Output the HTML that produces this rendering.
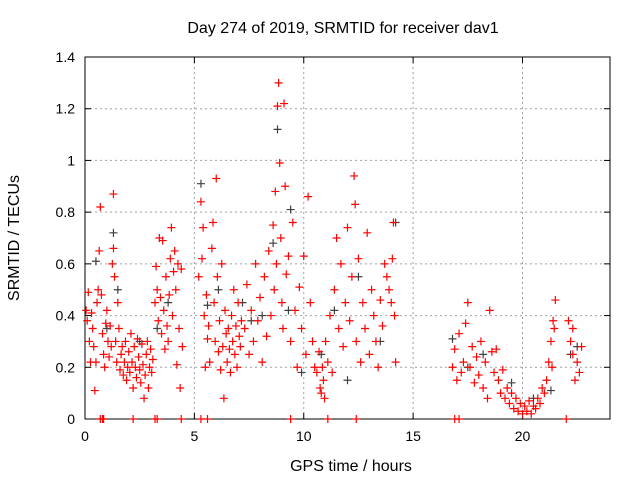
<!DOCTYPE html>
<html><head><meta charset="utf-8"><style>
body{margin:0;background:#fff;}
svg{display:block;font-family:"Liberation Sans",sans-serif;}
</style></head><body>
<svg id="chart" width="640" height="480">
<rect width="640" height="480" fill="#fff"/>
<text x="343" y="33" font-size="16" text-anchor="middle">Day 274 of 2019, SRMTID for receiver dav1</text>
<text x="351" y="471" font-size="16" text-anchor="middle">GPS time / hours</text>
<text transform="translate(19,238) rotate(-90)" font-size="16" text-anchor="middle">SRMTID / TECUs</text>
<g id="grid"></g><g id="axes"></g><g id="marks"></g>
</svg>
<script>
const xTicks=[0,5,10,15,20];
const yTicks=[0,0.2,0.4,0.6,0.8,1,1.2,1.4];
const yTickLabels=["0","0.2","0.4","0.6","0.8","1","1.2","1.4"];
const redHours=[0.05,0.1,0.15,0.2,0.25,0.3,0.35,0.4,0.45,0.5,0.55,0.6,0.65,0.7,0.75,0.8,0.85,0.9,0.95,1.0,1.05,1.1,1.15,1.2,1.25,1.3,1.3,1.35,1.4,1.45,1.5,1.55,1.6,1.65,1.7,1.75,1.8,1.85,1.9,1.95,
2.0,2.05,2.1,2.15,2.2,2.25,2.3,2.35,2.4,2.45,2.5,2.55,2.6,2.65,2.7,2.75,2.8,2.85,2.9,2.95,3.0,3.05,3.1,
3.2,3.25,3.3,3.35,3.4,3.45,3.5,3.55,3.6,3.65,3.7,3.75,3.8,3.85,3.9,3.95,4.0,4.05,4.1,4.15,4.2,4.25,4.3,4.35,4.4,4.45,
5.2,5.3,5.35,5.4,5.45,5.5,5.55,5.6,5.65,5.7,5.8,5.85,5.9,5.95,6.0,6.05,6.1,6.15,6.2,6.25,6.3,6.35,6.4,6.45,6.5,6.55,6.6,6.65,6.7,6.75,6.8,6.85,6.9,6.95,7.0,7.05,7.1,7.15,
7.3,7.4,7.5,7.6,7.7,7.8,7.9,8.0,8.1,8.2,8.3,8.4,8.5,8.6,8.65,8.7,8.75,8.8,8.85,8.9,8.95,9.0,9.05,9.1,9.15,9.2,9.3,9.4,9.5,9.6,9.7,9.8,9.9,10.0,10.1,10.2,10.3,10.4,10.5,
10.6,10.7,10.75,10.8,10.85,10.9,10.95,11.0,11.1,11.2,11.3,11.4,11.5,
11.6,11.7,11.8,11.9,12.0,12.1,12.2,12.3,12.35,12.4,12.5,12.6,12.7,12.8,12.9,13.0,13.1,13.2,13.3,13.4,13.5,13.6,13.7,13.8,13.9,14.0,14.05,14.1,14.15,14.2,
16.8,16.9,17.0,17.1,17.2,17.3,17.4,17.5,17.6,17.7,17.8,17.9,18.0,18.1,18.2,18.3,18.4,18.5,18.6,18.7,18.8,
18.9,19.0,19.1,19.2,19.3,19.4,19.5,19.6,19.7,19.8,19.9,20.0,20.1,20.2,20.3,20.4,20.5,20.6,20.7,20.8,20.9,21.0,21.1,21.2,21.3,21.4,21.5,21.35,21.45,
22.1,22.2,22.3,22.4,22.5,22.6,22.7,22.3,
0.7,0.8,0.85,2.2,3.2,3.3,4.4,5.3,5.6,9.4,11.1,12.4,16.9,17.1,22.0];
const redValues=[0.42,0.38,0.49,0.3,0.22,0.41,0.35,0.28,0.11,0.22,0.45,0.5,0.65,0.82,0.48,0.33,0.25,0.2,0.37,0.42,0.3,0.24,0.36,0.28,0.6,0.87,0.66,0.55,0.3,0.22,0.45,0.35,0.19,0.25,0.28,0.17,0.22,0.3,0.15,0.2,
0.26,0.18,0.33,0.22,0.12,0.28,0.2,0.16,0.31,0.24,0.19,0.14,0.29,0.21,0.08,0.17,0.25,0.3,0.12,0.2,0.27,0.18,0.23,
0.45,0.59,0.5,0.38,0.7,0.47,0.33,0.69,0.42,0.27,0.55,0.36,0.3,0.48,0.62,0.74,0.4,0.57,0.65,0.5,0.21,0.6,0.35,0.12,0.58,0.28,
0.55,0.84,0.62,0.74,0.4,0.2,0.48,0.31,0.36,0.22,0.66,0.76,0.45,0.3,0.93,0.55,0.26,0.38,0.19,0.6,0.28,0.08,0.42,0.33,0.22,0.35,0.27,0.18,0.4,0.3,0.5,0.25,0.36,0.2,0.45,0.32,0.28,0.38,
0.35,0.52,0.25,0.42,0.3,0.6,0.38,0.47,0.22,0.55,0.32,0.65,0.4,0.75,0.5,0.88,0.6,1.21,1.3,0.99,0.7,0.45,0.35,1.22,0.9,0.56,0.63,0.3,0.76,0.42,0.2,0.51,0.35,0.63,0.25,0.86,0.45,0.3,0.2,
0.18,0.26,0.12,0.1,0.2,0.15,0.08,0.3,0.22,0.4,0.18,0.5,0.7,
0.35,0.6,0.28,0.45,0.74,0.38,0.55,0.94,0.83,0.3,0.62,0.22,0.45,0.35,0.72,0.25,0.5,0.4,0.3,0.2,0.46,0.36,0.6,0.55,0.5,0.45,0.62,0.76,0.4,0.22,
0.2,0.27,0.15,0.33,0.18,0.22,0.37,0.45,0.2,0.28,0.14,0.24,0.17,0.3,0.12,0.22,0.08,0.42,0.26,0.18,0.27,
0.15,0.1,0.19,0.08,0.12,0.06,0.1,0.04,0.08,0.03,0.06,0.02,0.05,0.03,0.07,0.02,0.05,0.04,0.08,0.06,0.12,0.1,0.15,0.22,0.3,0.38,0.46,0.2,0.35,
0.38,0.3,0.25,0.15,0.22,0.18,0.28,0.35,
0,0,0,0,0,0,0,0,0,0,0,0,0,0,0];
const blackHours=[0.5,1.0,1.3,1.5,2.5,3.3,3.8,5.3,5.6,6.1,7.2,7.6,8.1,8.6,8.8,9.3,9.4,9.9,10.8,11.4,12.0,12.5,13.5,14.2,16.8,17.5,18.2,19.5,20.5,21.3,22.2,22.5];
const blackValues=[0.61,0.35,0.72,0.5,0.3,0.35,0.45,0.91,0.44,0.5,0.45,0.38,0.4,0.68,1.12,0.42,0.81,0.18,0.25,0.42,0.15,0.55,0.3,0.76,0.31,0.2,0.25,0.14,0.08,0.11,0.25,0.28];

const L=85,R=610,T=57,B=419,XMAX=24,YMAX=1.4;
const xs=h=>L+h/XMAX*(R-L);
const ys=v=>B-v/YMAX*(B-T);
const NS="http://www.w3.org/2000/svg";
function mk(tag,parent,attrs){const e=document.createElementNS(NS,tag);for(const k in attrs)e.setAttribute(k,attrs[k]);parent.appendChild(e);return e;}
const grid=document.getElementById('grid'),axes=document.getElementById('axes'),marks=document.getElementById('marks');
yTicks.forEach((v,i)=>{
  const y=ys(v);
  if(v>0&&v<YMAX){const g=mk('line',grid,{x1:L,x2:R,y1:y,y2:y,stroke:'#a0a0a0','stroke-dasharray':'2,3'});
  
  }
  mk('line',axes,{x1:L,x2:L+6,y1:y,y2:y,stroke:'#000'});
  mk('line',axes,{x1:R,x2:R-6,y1:y,y2:y,stroke:'#000'});
  const t=mk('text',axes,{x:L-10,y:y+5,'font-size':14,'text-anchor':'end'});t.textContent=yTickLabels[i];
  
  
});
xTicks.forEach(h=>{
  const x=xs(h);
  if(h>0){const g=mk('line',grid,{x1:x,x2:x,y1:T,y2:B,stroke:'#a0a0a0','stroke-dasharray':'2,3'});
  
  }
  mk('line',axes,{x1:x,x2:x,y1:B,y2:B-6,stroke:'#000'});
  mk('line',axes,{x1:x,x2:x,y1:T,y2:T+6,stroke:'#000'});
  const t=mk('text',axes,{x:x,y:B+22,'font-size':14,'text-anchor':'middle'});t.textContent=String(h);
  
  
});
const frame=mk('rect',axes,{x:L,y:T,width:R-L,height:B-T,fill:'none',stroke:'#000'});


function plus(hrs,vals,col,name){
  hrs.forEach((h,i)=>{
    const x=xs(h),y=ys(vals[i]);
    const p=mk('path',marks,{d:`M${x-4},${y}H${x+4}M${x},${y-4}V${y+4}`,stroke:col,'stroke-width':1.2,fill:'none'});
    
    
  });
}
plus(blackHours,blackValues,'#404040','black-point');
plus(redHours,redValues,'#ff0000','red-point');
</script>
</body></html>
